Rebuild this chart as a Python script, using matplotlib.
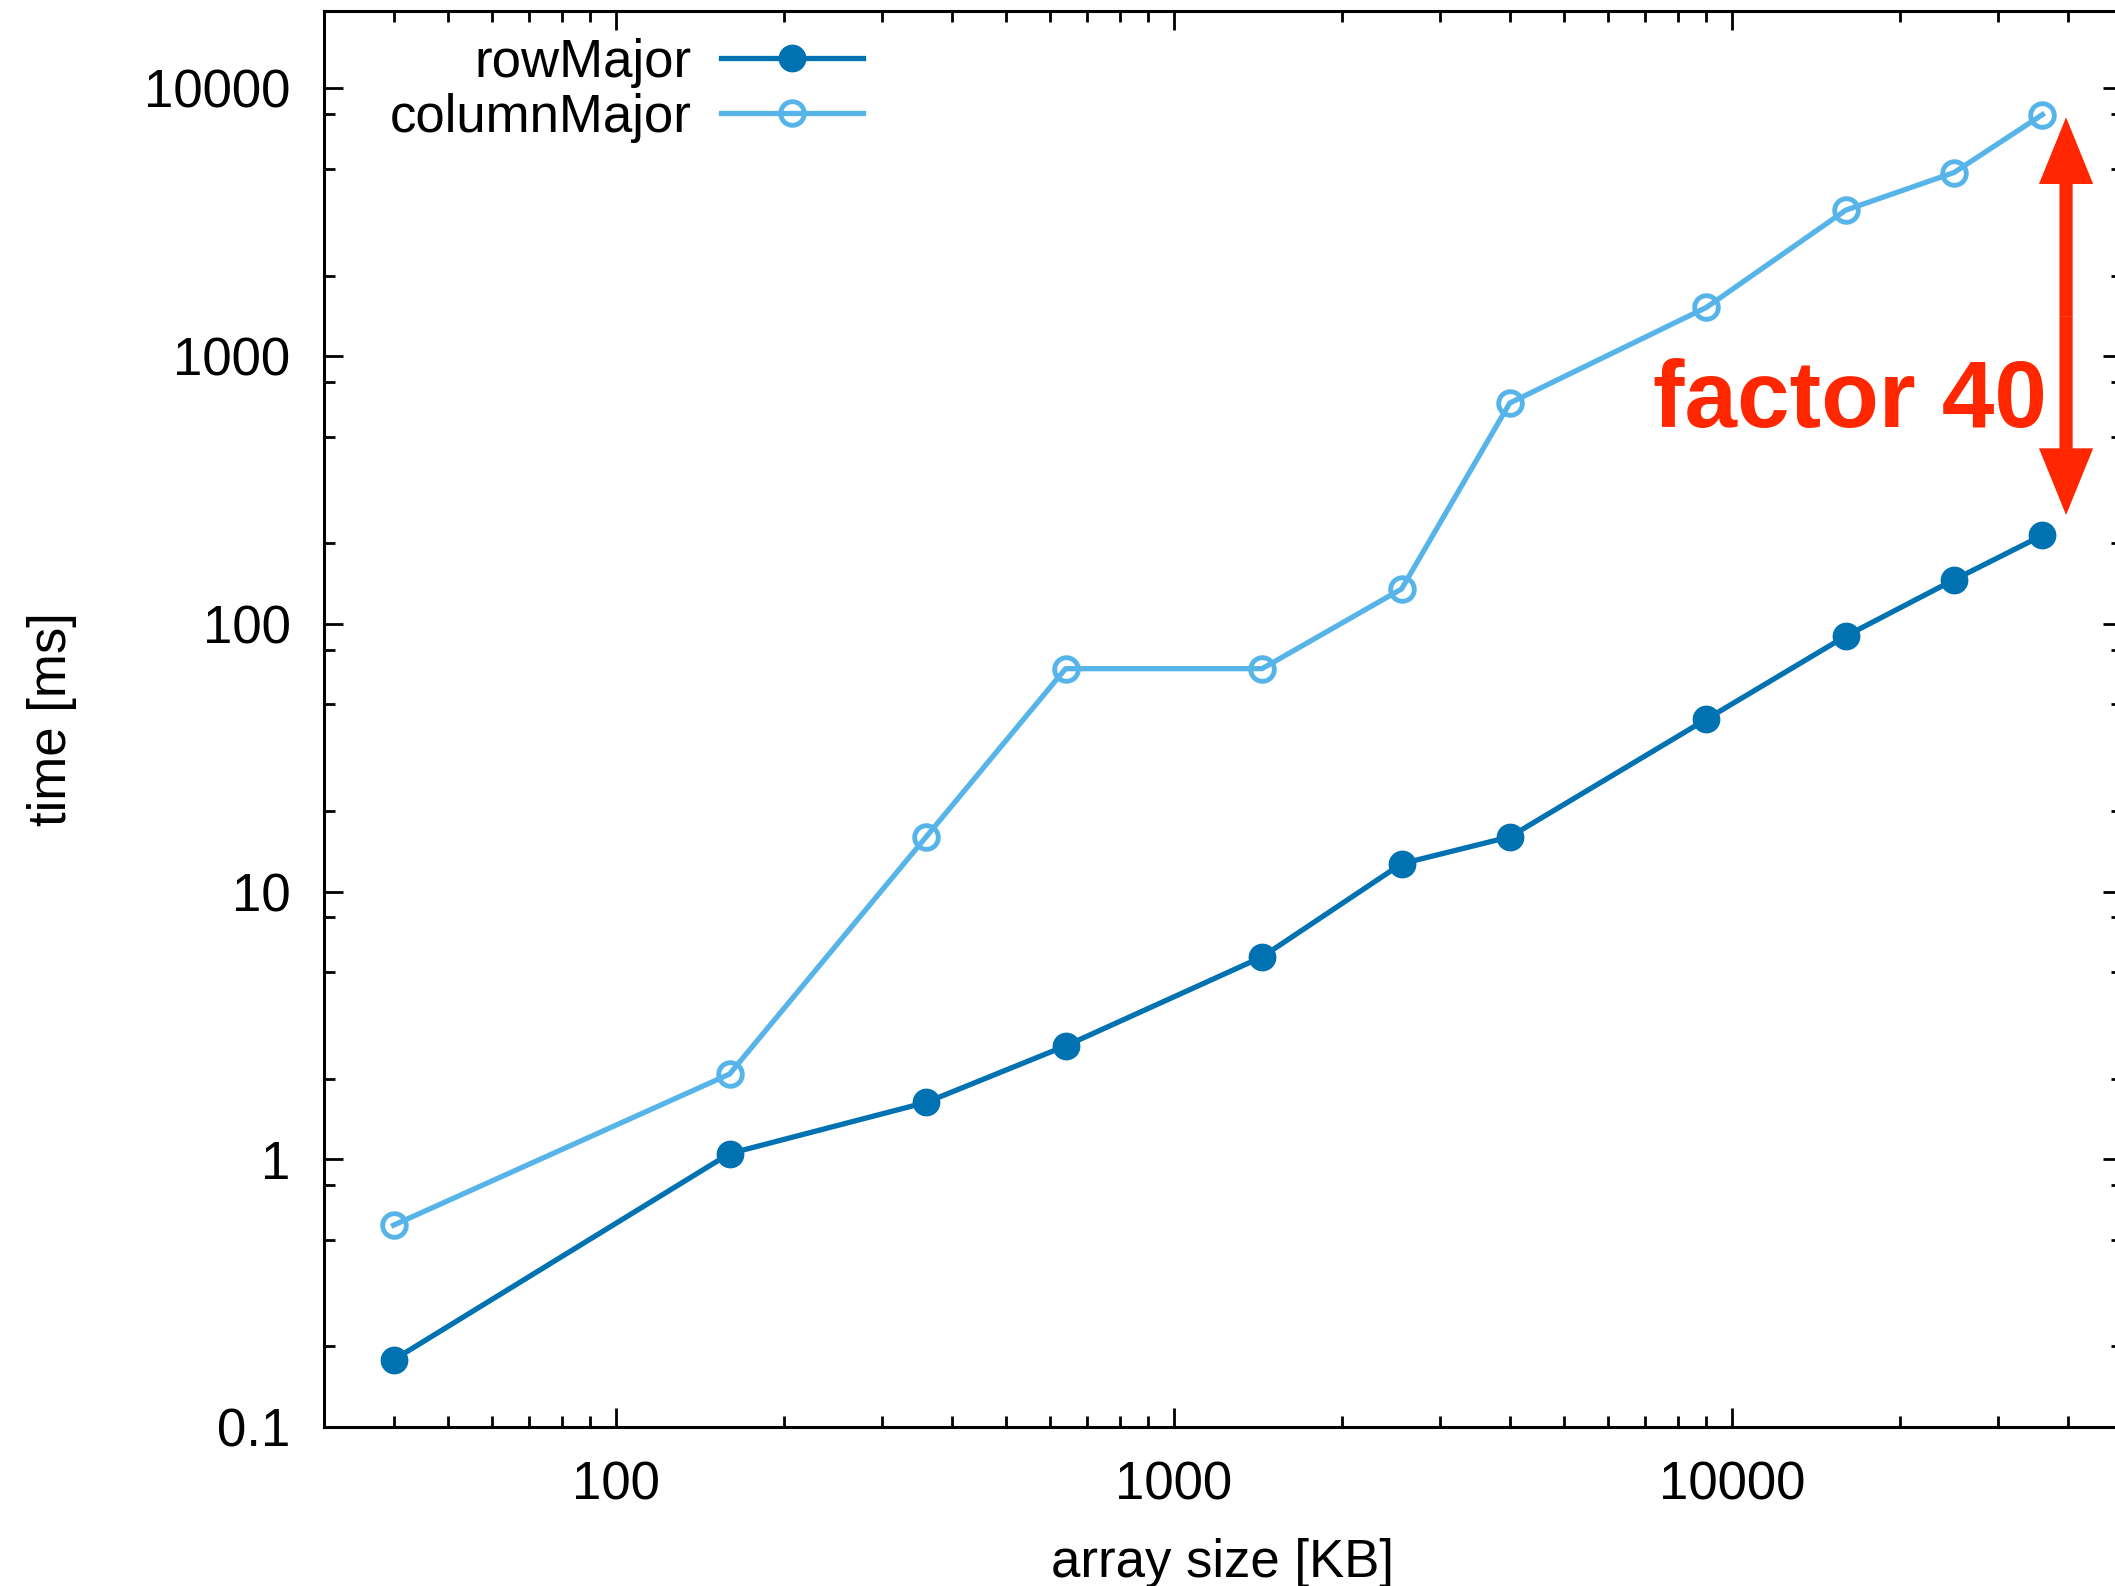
import numpy as np
import matplotlib
matplotlib.use('Agg')
import matplotlib.pyplot as plt
from matplotlib.ticker import LogLocator, FixedLocator, FixedFormatter, NullFormatter
from matplotlib.patches import FancyArrowPatch

plt.rcParams['font.family'] = ['Liberation Sans', 'DejaVu Sans']

# array sizes (KB) and timings (ms)
size_kb = [40, 160, 360, 640, 1440, 2560, 4000, 9000, 16000, 25000, 36000]
row_major = [0.178, 1.05, 1.63, 2.65, 5.7, 12.7, 16.0, 44, 90, 146, 214]
column_major = [0.567, 2.08, 16.0, 68, 68, 135, 668, 1520, 3510, 4850, 7980]

x_ticks = [100, 1000, 10000]
y_ticks = [0.1, 1, 10, 100, 1000, 10000]
y_tick_labels = ['0.1', '1', '10', '100', '1000', '10000']

dark = '#0072b2'
light = '#56b4e9'
red = '#ff2600'

fig = plt.figure(figsize=(21.15, 15.86), dpi=100)
ax = fig.add_axes([0.1531, 0.1003, 0.8502, 0.8929])

ax.plot(size_kb, row_major, '-o', color=dark, lw=3.8, ms=19, label='rowMajor')
ax.plot(size_kb, column_major, '-o', color=light, lw=3.8, ms=17, mfc='none',
        mew=3.5, label='columnMajor')

ax.set_xscale('log')
ax.set_yscale('log')
ax.set_xlim(30, 50000)
ax.set_ylim(0.1, 19500)

ax.xaxis.set_major_locator(FixedLocator(x_ticks))
ax.xaxis.set_major_formatter(FixedFormatter([str(v) for v in x_ticks]))
ax.xaxis.set_minor_locator(LogLocator(base=10, subs=np.arange(2, 10)))
ax.xaxis.set_minor_formatter(NullFormatter())
ax.yaxis.set_major_locator(FixedLocator(y_ticks))
ax.yaxis.set_major_formatter(FixedFormatter(y_tick_labels))
ax.yaxis.set_minor_locator(LogLocator(base=10, subs=[2, 5, 8]))
ax.yaxis.set_minor_formatter(NullFormatter())

ax.tick_params(which='both', direction='in', top=True, right=True, width=2,
               labelsize=38, colors='black')
ax.tick_params(which='major', length=14, pad=24)
ax.tick_params(which='minor', length=8)
for s in ax.spines.values():
    s.set_linewidth(2.2)

ax.set_xlabel('array size [KB]', fontsize=38, labelpad=20)
ax.set_ylabel('time [ms]', fontsize=38, labelpad=48)

ax.legend(loc='upper right', bbox_to_anchor=(0.300, 0.981), frameon=False,
          markerfirst=False, fontsize=38, handlelength=2.7, handletextpad=0.55,
          labelspacing=0.1, borderpad=0, borderaxespad=0)

# factor arrow
x_arr = 39700
y_top, y_bot = 7800, 255
y_mid = np.sqrt(y_top * y_bot)
for y_end in (y_top, y_bot):
    ar = FancyArrowPatch((x_arr, y_mid), (x_arr, y_end),
                         arrowstyle='simple,head_length=48,head_width=39,tail_width=9.5',
                         mutation_scale=1, color=red, lw=0, shrinkA=0, shrinkB=0)
    ax.add_patch(ar)

ax.text(36700, 542, 'factor 40', color=red, fontsize=68, fontweight='bold',
        ha='right', va='baseline')

fig.savefig('out.png', dpi=100)
